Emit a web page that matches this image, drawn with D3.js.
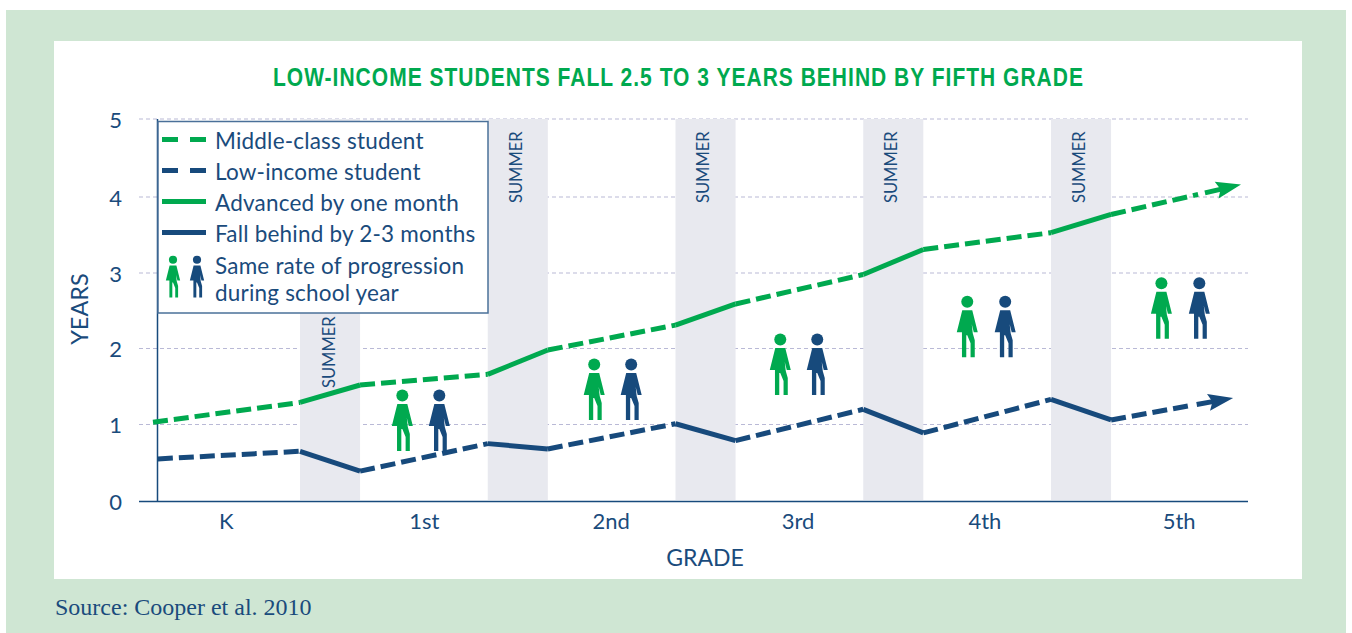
<!DOCTYPE html>
<html>
<head>
<meta charset="utf-8">
<script src="https://cdn.jsdelivr.net/npm/d3@7"></script>
<style>
  html, body { margin: 0; padding: 0; background: #fff; }
  svg { display: block; }
  text { font-family: Lato, sans-serif; fill: #1a4b7c; }
</style>
</head>
<body>
<script>
const title = "LOW-INCOME STUDENTS FALL 2.5 TO 3 YEARS BEHIND BY FIFTH GRADE";

//data, x is school-year time: 1 = end of K, 2 = end of 1st ...
const gradeLabels = ["K", "1st", "2nd", "3rd", "4th", "5th"];
const gradeCenters = [0.605, 1.66, 2.655, 3.65, 4.645, 5.68];
const summerStarts = [1, 2, 3, 4, 5];
const summerLength = 0.32;

const timeMiddle = [0.217, 1, 1.32, 2, 2.32, 3, 3.32, 4, 4.32, 5, 5.32, 6.012];
const valuesMiddle = [1.03, 1.29, 1.52, 1.66, 1.98, 2.31, 2.59, 2.98, 3.31, 3.53, 3.77, 4.16];
const timeLow = [0.243, 1, 1.32, 2, 2.32, 3, 3.32, 4, 4.32, 5, 5.32, 5.97];
const valuesLow = [0.55, 0.65, 0.39, 0.75, 0.68, 1.01, 0.79, 1.20, 0.89, 1.33, 1.06, 1.35];

//pairs of figures, value = where the feet stand
const figureTimeGreen = [1.545, 2.567, 3.558, 4.554, 5.588];
const figureTimeBlue = [1.742, 2.764, 3.755, 4.756, 5.79];
const figureValues = [0.654, 1.06, 1.387, 1.885, 2.13];

const legendLabels = ["Middle-class student", "Low-income student", "Advanced by one month", "Fall behind by 2-3 months"];

const green = "#00a94f";
const navy = "#174a7c";

//size and margin of svg
const canvWidth = 1352;
const canvHeight = 633;

const svg = d3.select("body").append("svg")
  .attr("width", canvWidth)
  .attr("height", canvHeight);

//panels
svg.append("rect").attr("x", 6).attr("y", 10).attr("width", 1340).attr("height", 623).attr("fill", "#cfe6d3");
svg.append("rect").attr("x", 54).attr("y", 41).attr("width", 1248).attr("height", 538).attr("fill", "#fff");

//scales, the printed y axis is not quite even
const xScale = d3.scaleLinear().domain([0, 6]).range([112.25, 1238.75]);
const yScale = d3.scaleLinear().domain([0, 1, 2, 3, 4, 5]).range([501, 424.5, 348.5, 273, 197, 119]);

//title, squeezed to look like the condensed face of the original
svg.append("text")
  .attr("x", 678.5)
  .attr("y", 86)
  .attr("text-anchor", "middle")
  .style("font-family", "'Liberation Sans', sans-serif")
  .attr("font-size", 25)
  .attr("font-weight", 700)
  .attr("letter-spacing", 1.2)
  .attr("textLength", 811)
  .attr("lengthAdjust", "spacingAndGlyphs")
  .style("fill", green)
  .text(title);

//gridlines
svg.append("g").selectAll("line")
  .data(d3.range(1, 6))
  .enter().append("line")
  .attr("x1", 139).attr("x2", 1248)
  .attr("y1", d => yScale(d)).attr("y2", d => yScale(d))
  .attr("stroke", "#b9b9d6")
  .attr("stroke-width", 1.2)
  .attr("stroke-dasharray", "4 3");

//summer bands
svg.append("g").selectAll("rect")
  .data(summerStarts)
  .enter().append("rect")
  .attr("x", d => xScale(d))
  .attr("y", yScale(5))
  .attr("width", d => xScale(d + summerLength) - xScale(d))
  .attr("height", yScale(0) - yScale(5) - 1)
  .attr("fill", "#e8e9ef");

svg.append("g").selectAll("text")
  .data(summerStarts)
  .enter().append("text")
  .attr("transform", (d, i) => `translate(${xScale(d + summerLength / 2) - (i === 0 ? 1 : 2)},${i === 0 ? 388 : 203}) rotate(-90)`)
  .attr("font-size", 16.5)
  .attr("dy", "0.35em")
  .text("SUMMER");

//axes
const xAxis = d3.axisBottom(xScale).tickValues(gradeCenters).tickFormat((d, i) => gradeLabels[i]).tickSize(0).tickPadding(12);
const xG = svg.append("g").attr("transform", `translate(0,${yScale(0)})`).call(xAxis);
xG.select(".domain").remove();
xG.selectAll("text").attr("font-size", 22).attr("font-family", null);

const yAxis = d3.axisLeft(yScale).tickValues(d3.range(0, 6)).tickFormat(d3.format("d")).tickSize(0).tickPadding(0);
const yG = svg.append("g").attr("transform", "translate(122,1)").call(yAxis);
yG.select(".domain").remove();
yG.selectAll("text").attr("font-size", 22).attr("font-family", null);

svg.append("line").attr("x1", 139).attr("x2", 1248).attr("y1", 501.5).attr("y2", 501.5).attr("stroke", navy).attr("stroke-width", 1.5);
svg.append("line").attr("x1", 157.5).attr("x2", 157.5).attr("y1", 119).attr("y2", 501).attr("stroke", navy).attr("stroke-width", 1.5);

svg.append("text")
  .attr("transform", "translate(80,309) rotate(-90)")
  .attr("text-anchor", "middle")
  .attr("dy", "0.35em")
  .attr("font-size", 23.5)
  .text("YEARS");

svg.append("text")
  .attr("x", 705).attr("y", 566)
  .attr("text-anchor", "middle")
  .attr("font-size", 23)
  .text("GRADE");

//lines, school year dashed and summer solid
const line = d3.line().x(d => xScale(d[0])).y(d => yScale(d[1]));

function drawSeries(times, values, color) {
  const pts = times.map((t, i) => [t, values[i]]);
  const g = svg.append("g");
  for (let i = 0; i < pts.length - 2; i++) {
    const isSummer = summerStarts.includes(pts[i][0]);
    g.append("path")
      .attr("d", line([pts[i], pts[i + 1]]))
      .attr("fill", "none")
      .attr("stroke", color)
      .attr("stroke-width", 5)
      .attr("stroke-dasharray", isSummer ? null : "15 6");
  }
  //last stretch stops short of the arrow, which brings its own stem
  const a = pts[pts.length - 1];
  const b = pts[pts.length - 2];
  const ax = xScale(a[0]), ay = yScale(a[1]);
  const dx = ax - xScale(b[0]), dy = ay - yScale(b[1]);
  const len = Math.hypot(dx, dy);
  g.append("path")
    .attr("d", `M${xScale(b[0])},${yScale(b[1])}L${ax - dx * 44 / len},${ay - dy * 44 / len}`)
    .attr("fill", "none")
    .attr("stroke", color)
    .attr("stroke-width", 5)
    .attr("stroke-dasharray", "15 6");
  const head = g.append("g")
    .attr("transform", `translate(${ax},${ay}) rotate(${Math.atan2(dy, dx) * 180 / Math.PI})`);
  head.append("path")
    .attr("d", "M-37,0L-18,0")
    .attr("stroke", color)
    .attr("stroke-width", 5);
  head.append("path")
    .attr("d", "M0,0L-25,-8.5L-21,0L-25,8.5Z")
    .attr("fill", color);
}
drawSeries(timeMiddle, valuesMiddle, green);
drawSeries(timeLow, valuesLow, navy);

//person figure, feet at 0,0, 61 tall
function drawPerson(parent, px, py, color, k) {
  const p = parent.append("g").attr("transform", `translate(${px},${py}) scale(${k})`).attr("fill", color);
  p.append("circle").attr("cx", 0).attr("cy", -55.5).attr("r", 6);
  p.append("path").attr("d",
    "M-5,-47 L5,-47 L10.5,-25 L6.5,-25 L4.5,-33 L5.5,-24 L7.5,-17 L7.5,0 L3.3,0 L3.3,-14 L0,-22 L-1,-22 L-1,0 L-5.3,0 L-5.3,-25 L-6,-25 L-10.5,-25 Z");
}
const figures = svg.append("g");
figureValues.forEach((v, i) => {
  drawPerson(figures, xScale(figureTimeGreen[i]), yScale(v), green, 1);
  drawPerson(figures, xScale(figureTimeBlue[i]), yScale(v), navy, 1);
});

//legend
const legend = svg.append("g");
legend.append("rect")
  .attr("x", 158).attr("y", 121.5).attr("width", 330).attr("height", 191.5)
  .attr("fill", "#fff")
  .attr("stroke", "#4a7099")
  .attr("stroke-width", 1.5);

const legendColors = [green, navy, green, navy];
const legendDash = ["16 12", "16 12", null, null];
legendLabels.forEach((label, i) => {
  const ly = 139.5 + i * 31;
  legend.append("line")
    .attr("x1", 162).attr("x2", 206).attr("y1", ly).attr("y2", ly)
    .attr("stroke", legendColors[i]).attr("stroke-width", 5)
    .attr("stroke-dasharray", legendDash[i]);
  legend.append("text")
    .attr("x", 215).attr("y", ly + 9)
    .attr("font-size", 22.5)
    .attr("letter-spacing", 0.2)
    .text(label);
});
legend.append("text").attr("x", 215).attr("y", 274).attr("font-size", 22.5).attr("letter-spacing", 0.2).text("Same rate of progression");
legend.append("text").attr("x", 215).attr("y", 301).attr("font-size", 22.5).attr("letter-spacing", 0.2).text("during school year");
drawPerson(legend, 173, 297.5, green, 0.68);
drawPerson(legend, 197, 297.5, navy, 0.68);

//source
svg.append("text")
  .attr("x", 55).attr("y", 615)
  .style("font-family", "'Liberation Serif', serif")
  .attr("font-size", 24)
  .text("Source: Cooper et al. 2010");
</script>
</body>
</html>
